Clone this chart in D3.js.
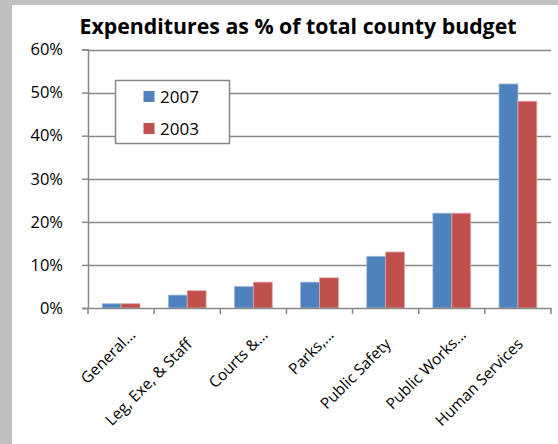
<!DOCTYPE html>
<html><head><meta charset="utf-8">
<script src="https://cdn.jsdelivr.net/npm/d3@7"></script>
<style>
html,body{margin:0;padding:0;background:#c0c0c0;}
svg{display:block;}
text{font-family:"Open Sans","Noto Sans",sans-serif;fill:#000;}
</style></head><body>
<svg id="c" width="558" height="444"></svg>
<script>
const categories = ["General...", "Leg, Exe, & Staff", "Courts &...", "Parks,...", "Public Safety", "Public Works...", "Human Services"];
const series = ["2007", "2003"];
const values2007 = [1, 3, 5, 6, 12, 22, 52];
const values2003 = [1, 4, 6, 7, 13, 22, 48];
const yTicks = [0, 10, 20, 30, 40, 50, 60];
const colors = ["#4F81BD", "#C0504D"];
const edgeColors = ["#9DB9DE", "#E3A3A1"];

const svg = d3.select("#c");
svg.append("rect").attr("x",12).attr("y",5).attr("width",546).attr("height",439).attr("fill","#fff");

const L = 88, R = 551, T = 49.5, B = 308;
const x = d3.scaleBand().domain(categories).range([L, R]);
const y = d3.scaleLinear().domain([0, 60]).range([B, T]);
const inner = d3.scaleBand().domain(series).range([0, x.bandwidth()]).paddingOuter(0.75).paddingInner(0);

// gridlines
svg.append("g").selectAll("line").data(yTicks.filter(d=>d>0)).join("line")
  .attr("x1", L).attr("x2", R).attr("y1", d=>Math.round(y(d))+0.5).attr("y2", d=>Math.round(y(d))+0.5)
  .attr("stroke","#888").attr("stroke-width",1.5);

// y axis
const yAxis = d3.axisLeft(y).tickValues(yTicks).tickFormat(d=>d+"%").tickSize(6).tickPadding(19);
const gy = svg.append("g").attr("transform",`translate(${L},0)`).call(yAxis);
gy.attr("font-family", null).attr("font-size", null);
gy.select(".domain").attr("stroke","#888").attr("stroke-width",1.5);
gy.selectAll(".tick line").attr("stroke","#888").attr("stroke-width",1.5);
gy.selectAll(".tick text").style("font-size","16.5px").attr("fill","#000");

// bars
const data = categories.map((c,i)=>({c, v:[values2007[i], values2003[i]]}));
const g = svg.append("g");
data.forEach(d=>{
  series.forEach((s,j)=>{
    g.append("rect")
      .attr("x", x(d.c)+inner(s)).attr("width", inner.bandwidth())
      .attr("y", y(d.v[j])).attr("height", B - y(d.v[j]))
      .attr("fill", colors[j]).attr("stroke", edgeColors[j]).attr("stroke-width",0.8);
  });
});

// x axis
const xAxis = d3.axisBottom(x).tickSize(0).tickFormat("");
const gx = svg.append("g").attr("transform",`translate(0,${B})`).call(xAxis);
gx.select(".domain").attr("stroke","#888").attr("stroke-width",1.5);
const bounds = categories.map(c=>x(c)).concat([R]);
svg.append("g").selectAll("line").data(bounds).join("line")
  .attr("x1",d=>d).attr("x2",d=>d).attr("y1",B).attr("y2",B+6)
  .attr("stroke","#888").attr("stroke-width",1.5);

svg.append("g").selectAll("text").data(categories).join("text")
  .attr("transform", d=>`translate(${x(d)+x.bandwidth()/2+6},${B+37}) rotate(-45)`)
  .attr("text-anchor","end")
  .attr("dx", d=>d.endsWith("...") ? 13 : 0)
  .style("font-size","15.5px")
  .text(d=>d);

// title
svg.append("text").attr("x", 298).attr("y", 34).attr("text-anchor","middle")
  .style("font-size","21.3px").style("font-weight","bold").text("Expenditures as % of total county budget");

// legend
const lg = svg.append("g");
lg.append("rect").attr("x",115.5).attr("y",80.5).attr("width",114).attr("height",63)
  .attr("fill","#fff").attr("stroke","#888").attr("stroke-width",1.5);
series.forEach((s,j)=>{
  lg.append("rect").attr("x",143.5).attr("y",91+j*32).attr("width",11).attr("height",11).attr("fill",colors[j]);
  lg.append("text").attr("x",160).attr("y",103+j*32).style("font-size","17px").text(s);
});
</script>
</body></html>
